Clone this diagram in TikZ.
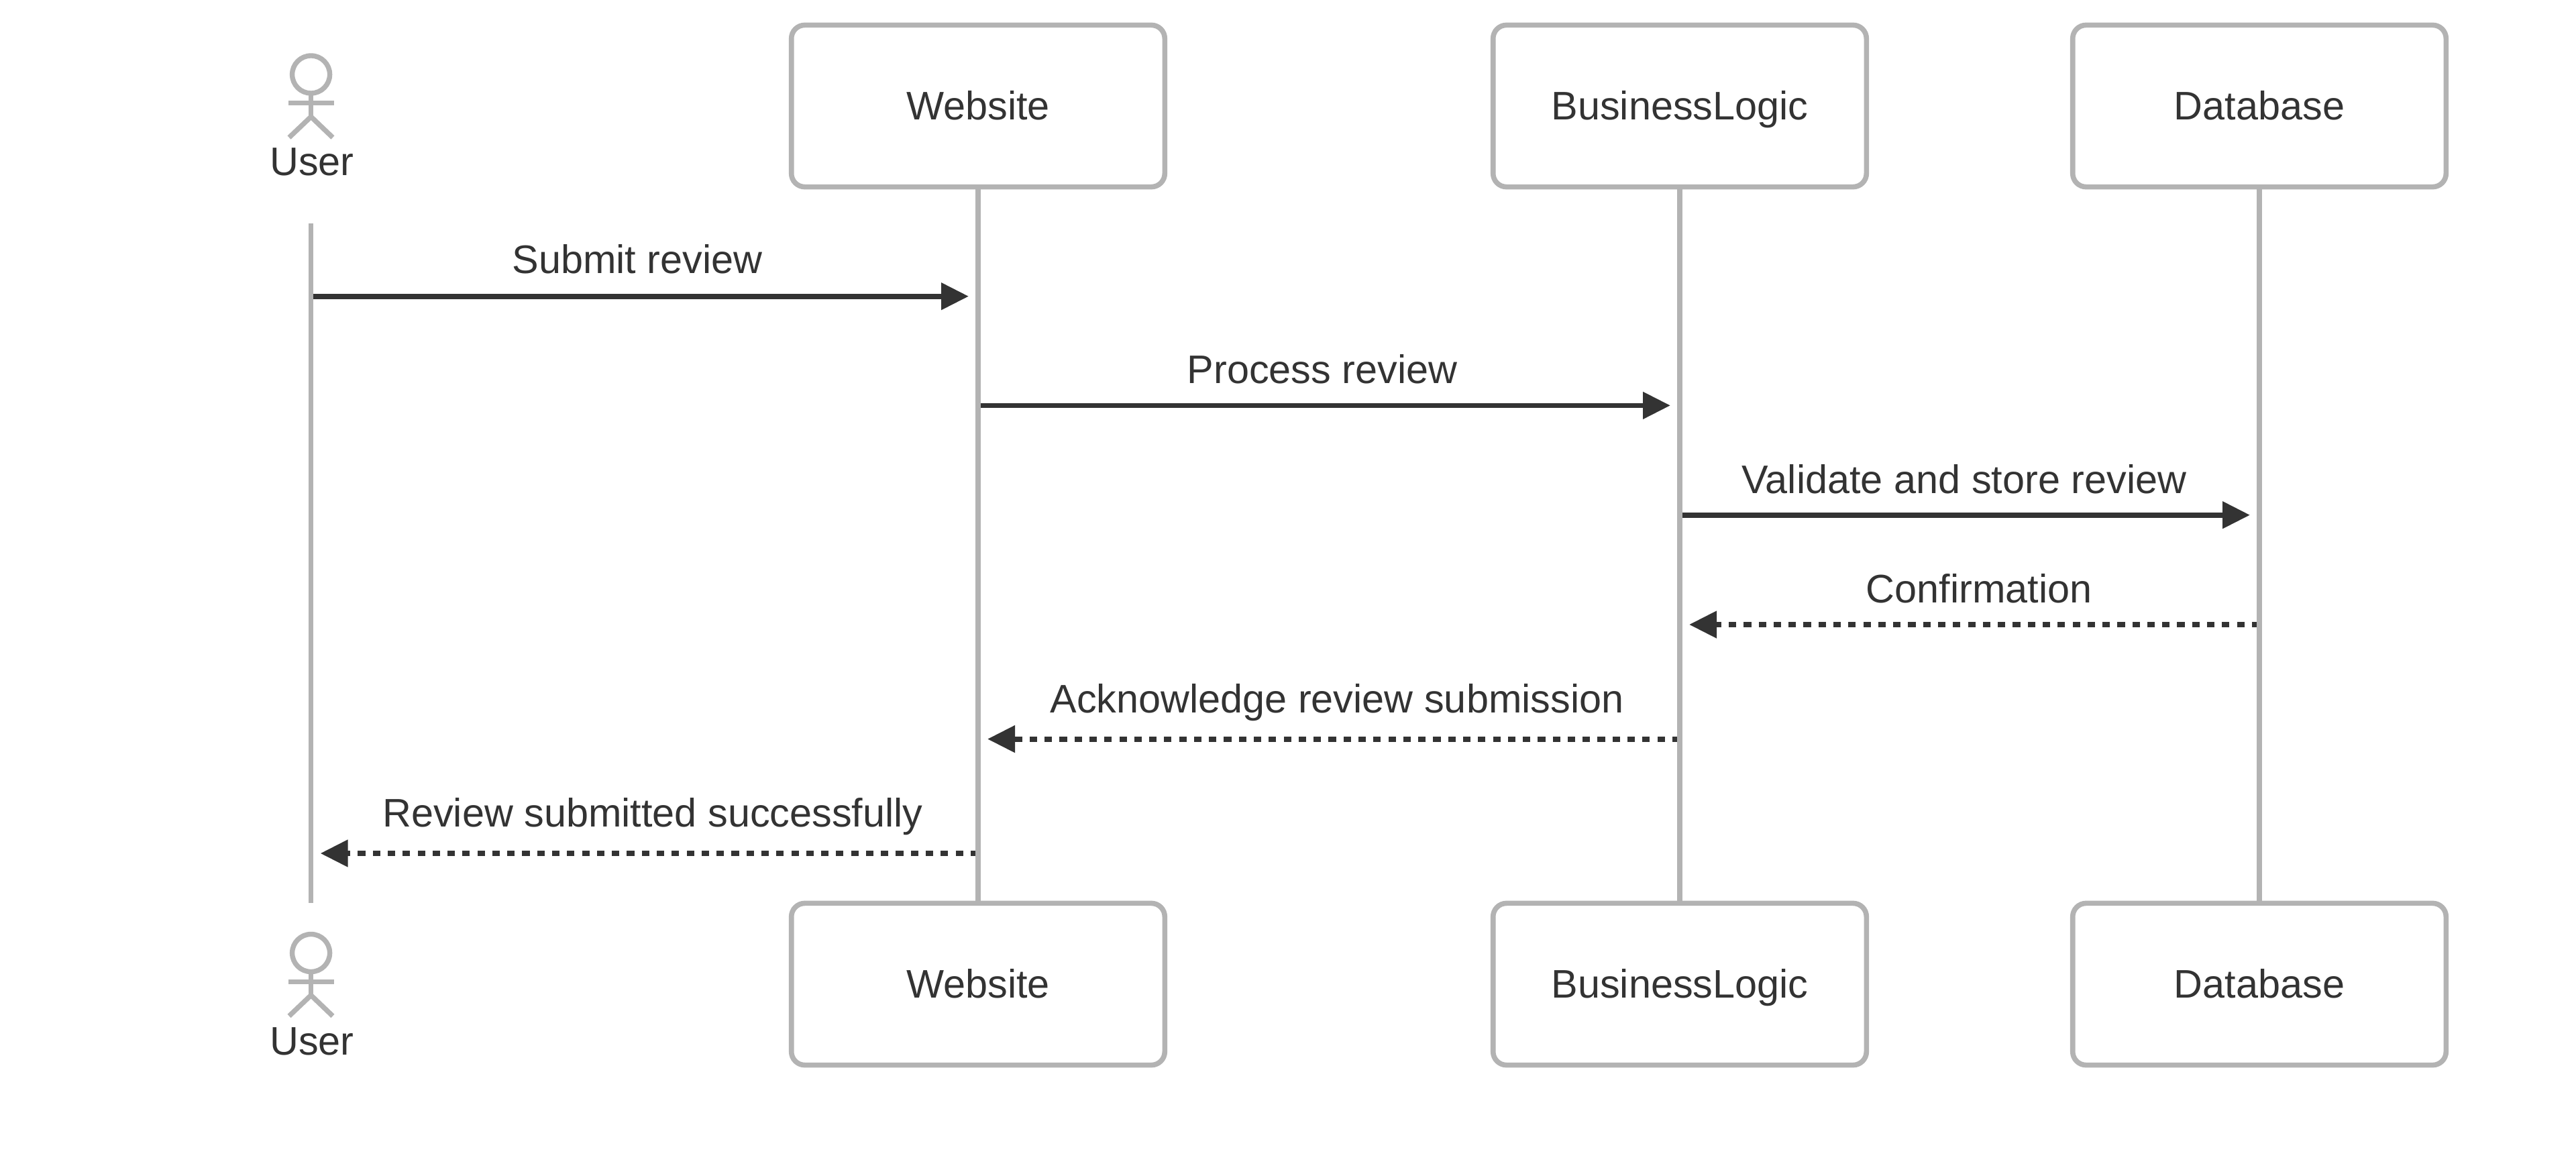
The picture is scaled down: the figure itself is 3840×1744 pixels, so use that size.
\documentclass[tikz,border=0pt]{standalone}
\usepackage{fontspec}
\setmainfont{Liberation Sans}
\usetikzlibrary{arrows.meta}
\definecolor{lifegray}{HTML}{B3B3B3}
\definecolor{inkdark}{HTML}{333333}
\tikzset{
  boxparticipant/.style={draw=lifegray,line width=3.8pt,fill=white,rounded corners=10pt,outer sep=0pt,inner sep=0pt,
    minimum width=278.3pt,minimum height=120.6pt,text=inkdark,font=\fontsize{29.7pt}{34pt}\selectfont,
    text height=20.75pt,text depth=0pt,align=center},
  lifeline/.style={draw=lifegray,line width=3.7pt},
  actorline/.style={draw=lifegray,line width=3.7pt},
  actorhead/.style={circle,draw=lifegray,line width=3.7pt,fill=white,minimum size=28pt,inner sep=0pt,outer sep=0pt},
  caption/.style={anchor=base,inner sep=0pt,outer sep=0pt,text=inkdark,font=\fontsize{29.7pt}{34pt}\selectfont},
  solidmsg/.style={draw=inkdark,line width=3.9pt,-{Triangle[length=20.5pt,width=19.5pt,fill=inkdark]},shorten >=7pt},
  dashmsg/.style={solidmsg,dash pattern=on 5.57pt off 5.57pt},
}
\begin{document}
\begin{tikzpicture}[x=0.5pt,y=-0.5pt]
\useasboundingbox (0,0) rectangle (3840,1744);
% participant boxes
\node[boxparticipant] (web1) at (1458,158) {Website};
\node[boxparticipant] (biz1) at (2504,158) {BusinessLogic};
\node[boxparticipant] (db1)  at (3368,158) {Database};
\node[boxparticipant] (web2) at (1458,1467) {Website};
\node[boxparticipant] (biz2) at (2504,1467) {BusinessLogic};
\node[boxparticipant] (db2)  at (3368,1467) {Database};
% actors
\node[actorhead] (head1) at (463.6,111) {};
\coordinate (neck1) at (463.6,174);
\coordinate (armL1) at (430,153.7);
\coordinate (armR1) at (498,153.7);
\coordinate (legL1) at (431,205);
\coordinate (legR1) at (496,205);
\draw[actorline] (head1.south) -- (neck1);
\draw[actorline] (armL1) -- (armR1);
\draw[actorline] (legL1) -- (neck1) -- (legR1);
\node[caption] (user1) at (465,262) {User};
\node[actorhead] (head2) at (463.6,1420.5) {};
\coordinate (neck2) at (463.6,1483.5);
\coordinate (armL2) at (430,1463.2);
\coordinate (armR2) at (498,1463.2);
\coordinate (legL2) at (431,1514.5);
\coordinate (legR2) at (496,1514.5);
\draw[actorline] (head2.south) -- (neck2);
\draw[actorline] (armL2) -- (armR2);
\draw[actorline] (legL2) -- (neck2) -- (legR2);
\node[caption] (user2) at (465,1572) {User};
% message anchor points on the lifelines
\coordinate (userTop) at (463.6,333);
\coordinate (userBot) at (463.6,1346);
\coordinate (m1s) at (463.6,441.7);  \coordinate (m1e) at (1458,441.7);
\coordinate (m2s) at (1458,604.4);   \coordinate (m2e) at (2504,604.4);
\coordinate (m3s) at (2504,767.7);   \coordinate (m3e) at (3368,767.7);
\coordinate (m4s) at (3368,931);     \coordinate (m4e) at (2504,931);
\coordinate (m5s) at (2504,1101.6);  \coordinate (m5e) at (1458,1101.6);
\coordinate (m6s) at (1458,1272);    \coordinate (m6e) at (463.6,1272);
% messages
\draw[solidmsg] (m1s) -- (m1e);
\draw[solidmsg] (m2s) -- (m2e);
\draw[solidmsg] (m3s) -- (m3e);
\draw[dashmsg] (m4s) -- (m4e);
\draw[dashmsg] (m5s) -- (m5e);
\draw[dashmsg] (m6s) -- (m6e);
% lifelines
\draw[lifeline] (userTop) -- (userBot);
\draw[lifeline] (web1.south) -- (web2.north);
\draw[lifeline] (biz1.south) -- (biz2.north);
\draw[lifeline] (db1.south) -- (db2.north);
% message labels
\node[caption] (l1) at (950,408) {Submit review};
\node[caption] (l2) at (1971,571.5) {Process review};
\node[caption] (l3) at (2928,735) {Validate and store review};
\node[caption] (l4) at (2950,898) {Confirmation};
\node[caption] (l5) at (1993,1062) {Acknowledge review submission};
\node[caption] (l6) at (973,1232) {Review submitted successfully};
\end{tikzpicture}
\end{document}
